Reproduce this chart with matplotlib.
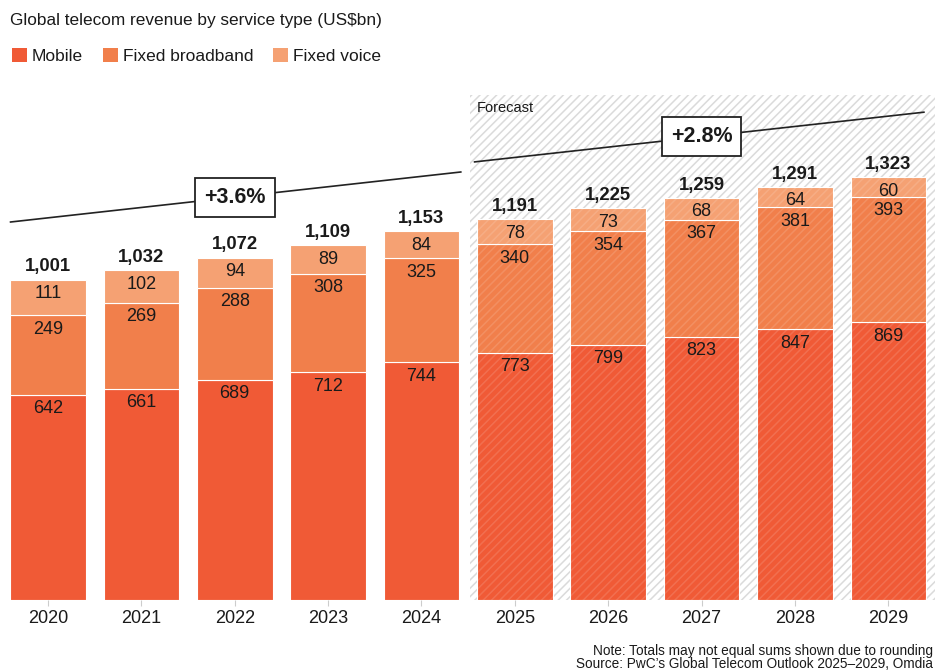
import matplotlib
matplotlib.use("Agg")
import matplotlib.pyplot as plt
from matplotlib.patches import Rectangle, Patch
import numpy as np

# ---- data -------------------------------------------------------------
years = [2020, 2021, 2022, 2023, 2024, 2025, 2026, 2027, 2028, 2029]
mobile = [642, 661, 689, 712, 744, 773, 799, 823, 847, 869]
fixed_broadband = [249, 269, 288, 308, 325, 340, 354, 367, 381, 393]
fixed_voice = [111, 102, 94, 89, 84, 78, 73, 68, 64, 60]
totals = [1001, 1032, 1072, 1109, 1153, 1191, 1225, 1259, 1291, 1323]
first_forecast_year = 2025
cagr_labels = ["+3.6%", "+2.8%"]
series_names = ["Mobile", "Fixed broadband", "Fixed voice"]

# ---- style ------------------------------------------------------------
plt.rcParams["font.family"] = ["Liberation Sans", "DejaVu Sans"]
plt.rcParams["hatch.linewidth"] = 1.1
colors = ["#F05A36", "#F17F4B", "#F5A173"]
text_color = "#1a1a1a"

fig = plt.figure(figsize=(9.35, 6.72), dpi=100)
ax = fig.add_axes([0.0014, 0.1071, 0.9986, 0.7589])

x = np.arange(len(years))
bar_w = 0.81
n_hist = years.index(first_forecast_year)

# hatched forecast background
ax.add_patch(Rectangle((n_hist - 0.482, 0), len(years) - n_hist + 0.5, 1580,
                       facecolor="white", edgecolor="#dadada", hatch="////",
                       linewidth=0, zorder=0))
ax.text(n_hist - 0.407, 1539, "Forecast", fontsize=10.5, color=text_color,
        va="center", ha="left", zorder=1)

# stacked bars
bottoms = np.zeros(len(years))
for vals, col in zip([mobile, fixed_broadband, fixed_voice], colors):
    vals = np.array(vals, dtype=float)
    ax.bar(x, vals, bar_w, bottom=bottoms, color=col, edgecolor="white",
           linewidth=0.8, zorder=2)
    for xi, b, v in zip(x, bottoms, vals):
        ax.annotate(f"{int(v)}", (xi, b + v), xytext=(0, -4),
                    textcoords="offset points", ha="center", va="top",
                    fontsize=13, color=text_color, zorder=4)
    bottoms += vals

# subtle stripes over forecast bars
ax.bar(x[n_hist:], bottoms[n_hist:], bar_w, facecolor="none",
       edgecolor=(1, 1, 1, 0.13), hatch="////", linewidth=0, zorder=3)

# totals
for xi, top, t in zip(x, bottoms, totals):
    ax.annotate(f"{t:,}", (xi, top), xytext=(0, 3), textcoords="offset points",
                ha="center", va="bottom", fontsize=13.3, fontweight="bold",
                color=text_color, zorder=4)

# growth trend lines with rate boxes
segments = [(0, n_hist - 1, -0.41, 0.43, 181, 186, 2),
            (n_hist, len(years) - 1, -0.44, 0.39, 179, 203, 7)]
for (i0, i1, dx0, dx1, off0, off1, xb), lab in zip(segments, cagr_labels):
    xs = [x[i0] + dx0, x[i1] + dx1]
    ys = [totals[i0] + off0, totals[i1] + off1]
    ax.plot(xs, ys, color="#222222", linewidth=1.2, zorder=5,
            solid_capstyle="butt")
    yb = np.interp(xb, xs, ys)
    ax.text(xb, yb, lab, ha="center", va="center", fontsize=15.5,
            fontweight="bold", color=text_color, zorder=6,
            bbox=dict(boxstyle="square,pad=0.42", facecolor="white",
                      edgecolor="#222222", linewidth=1.3))

ax.set_xlim(-0.5, len(years) - 0.5)
ax.set_ylim(0, 1595)
ax.set_xticks(x)
ax.set_xticklabels([str(y) for y in years], fontsize=13, color=text_color)
ax.tick_params(axis="x", length=4, width=0.8, color="#cccccc", pad=3)
ax.set_yticks([])
for s in ax.spines.values():
    s.set_visible(False)

# title and legend
fig.text(0.0107, 0.970, "Global telecom revenue by service type (US$bn)",
         fontsize=12.4, color=text_color, va="center", ha="left")
handles = [Patch(facecolor=c, edgecolor="none") for c in colors]
fig.legend(handles, series_names, loc="center left",
           bbox_to_anchor=(0.0128, 0.9167), ncol=3, frameon=False,
           fontsize=12.5, handlelength=0.85, handleheight=0.85,
           handletextpad=0.3, columnspacing=1.15, borderpad=0,
           borderaxespad=0, labelcolor=text_color)

# footnotes
fig.text(0.998, 0.031, "Note: Totals may not equal sums shown due to rounding",
         fontsize=9.8, color=text_color, ha="right", va="center")
fig.text(0.998, 0.0125, "Source: PwC\u2019s Global Telecom Outlook 2025\u20132029, Omdia",
         fontsize=9.8, color=text_color, ha="right", va="center")

fig.savefig("out.png", dpi=100)
